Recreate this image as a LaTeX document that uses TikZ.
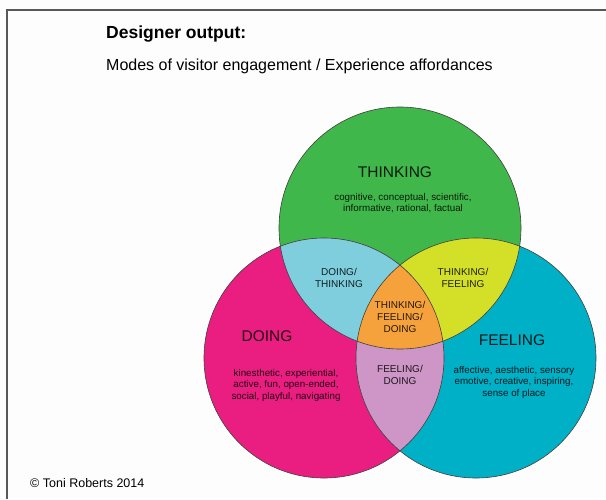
\documentclass[tikz,border=0pt]{standalone}
\usepackage{fontspec}
\setmainfont{Liberation Sans}
\definecolor{thinkgreen}{RGB}{64,183,74}
\definecolor{doingpink}{RGB}{234,30,128}
\definecolor{feelcyan}{RGB}{0,176,198}
\definecolor{dtblue}{RGB}{126,206,222}
\definecolor{tfyellow}{RGB}{212,224,40}
\definecolor{allorange}{RGB}{246,162,60}
\definecolor{fdmauve}{RGB}{206,150,198}
\definecolor{framegray}{RGB}{88,88,88}
\definecolor{paper}{RGB}{253,253,253}
\begin{document}
\begin{tikzpicture}[x=1pt,y=-1pt,
  ring/.style={draw=black!75, line width=0.6pt},
  heading/.style={font=\fontsize{17.5}{20}\selectfont\bfseries, anchor=base west, inner sep=0pt},
  subheading/.style={font=\fontsize{16}{19}\selectfont, anchor=base west, inner sep=0pt},
  credit/.style={font=\fontsize{12.5}{15}\selectfont, anchor=base west, inner sep=0pt},
  modename/.style={font=\fontsize{15.5}{18}\selectfont, text=black, text opacity=0.85, anchor=base, inner sep=0pt},
  blurb/.style={font=\fontsize{9.8}{11.5}\selectfont, align=center, text=black, text opacity=0.85, inner sep=0pt},
  overlap/.style={font=\fontsize{10}{11.7}\selectfont, align=center, text=black, text opacity=0.85, inner sep=0pt}]

% page and frame
\fill[paper] (0,0) rectangle (606,499);
\useasboundingbox (0,0) rectangle (606,499);
\coordinate (fbl) at (7,499);
\coordinate (ftl) at (7,10);
\coordinate (ftr) at (606,10);
\draw[framegray, line width=2pt] (fbl) -- (ftl) -- (ftr);

% headings
\node[heading] (title) at (106,38) {Designer output:};
\node[subheading] (subtitle) at (106,70) {Modes of visitor engagement / Experience affordances};
\node[credit] (copyright) at (30,487.5) {© Toni Roberts 2014};

% circle centres
\coordinate (tc) at (400,228);
\coordinate (dc) at (324,358);
\coordinate (fc) at (476,358);

% base circles
\fill[thinkgreen] (tc) circle[radius=121pt];
\fill[doingpink] (dc) circle[radius=120pt];
\fill[feelcyan] (fc) circle[radius=120pt];

% pairwise overlaps
\begin{scope}
  \clip (tc) circle[radius=121pt];
  \fill[dtblue] (dc) circle[radius=120pt];
  \fill[tfyellow] (fc) circle[radius=120pt];
\end{scope}
\begin{scope}
  \clip (dc) circle[radius=120pt];
  \fill[fdmauve] (fc) circle[radius=120pt];
\end{scope}
% centre overlap
\begin{scope}
  \clip (tc) circle[radius=121pt];
  \clip (dc) circle[radius=120pt];
  \fill[allorange] (fc) circle[radius=120pt];
\end{scope}

% outlines
\draw[ring] (tc) circle[radius=121pt];
\draw[ring] (dc) circle[radius=120pt];
\draw[ring] (fc) circle[radius=120pt];

% mode names and descriptions
\node[modename] (thinking) at (395,177) {THINKING};
\node[blurb] (thinkingtext) at (403,203) {cognitive, conceptual, scientific,\\informative, rational, factual};
\node[modename] (doing) at (267,341) {DOING};
\node[blurb] (doingtext) at (286,385) {kinesthetic, experiential,\\active, fun, open-ended,\\social, playful, navigating};
\node[modename] (feeling) at (512,345.7) {FEELING};
\node[blurb] (feelingtext) at (514,382) {affective, aesthetic, sensory\\emotive, creative, inspiring,\\sense of place};

% overlap labels
\node[overlap] (dt) at (339,278) {DOING/\\THINKING};
\node[overlap] (tf) at (463,278) {THINKING/\\FEELING};
\node[overlap] (tfd) at (400,317) {THINKING/\\FEELING/\\DOING};
\node[overlap] (fd) at (400,375) {FEELING/\\DOING};
\end{tikzpicture}
\end{document}
